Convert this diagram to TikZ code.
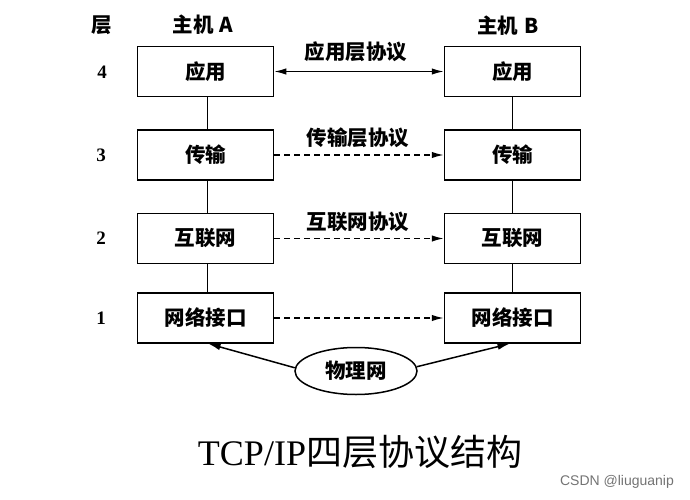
\documentclass[tikz,border=0pt]{standalone}
\usepackage{fontspec}
\setmainfont{Liberation Serif}
\newfontfamily\cjk{Noto Sans CJK SC}
\newfontfamily\wm{Liberation Sans}
\usetikzlibrary{arrows.meta,shapes.geometric}
\begin{document}
\begin{tikzpicture}[x=1pt,y=-1pt,
  layerbox/.style={draw,line width=1.5pt,minimum width=136pt,minimum height=50pt,inner sep=0pt,font=\cjk\bfseries\fontsize{20.5}{22}\selectfont},
  lbl/.style={font=\cjk\bfseries\fontsize{20.5}{22}\selectfont,inner sep=0pt},
  num/.style={font=\bfseries\fontsize{19}{21}\selectfont,inner sep=0pt},
  link/.style={line width=1.5pt},
  tip/.style={-{Latex[length=12pt,width=6.5pt]}},
  dashedarrow/.style={line width=1.5pt,dash pattern=on 6pt off 4pt,-{Latex[length=12pt,width=6.5pt]}}]
\useasboundingbox (0,0) rectangle (690,500);
% headers
\node[lbl] (hl) at (102,25) {层};
\node[lbl] (ha) at (203,25) {主机\hspace{0.3em}A};
\node[lbl] (hb) at (508,26) {主机\hspace{0.3em}B};
% layer numbers
\node[num] (n4) at (102,72) {4};
\node[num] (n3) at (101,155) {3};
\node[num] (n2) at (101,238) {2};
\node[num] (n1) at (101,318) {1};
% host A
\node[layerbox] (a4) at (205.5,71.5) {应用};
\node[layerbox] (a3) at (205.5,155) {传输};
\node[layerbox] (a2) at (205.5,238.5) {互联网};
\node[layerbox] (a1) at (205.5,318) {网络接口};
% host B
\node[layerbox] (b4) at (512.5,71.5) {应用};
\node[layerbox] (b3) at (512.5,155) {传输};
\node[layerbox] (b2) at (512.5,238.5) {互联网};
\node[layerbox] (b1) at (512.5,318) {网络接口};
% vertical links
\draw[link] ([xshift=2pt]a4.south) -- ([xshift=2pt]a3.north);
\draw[link] ([xshift=2pt]a3.south) -- ([xshift=2pt]a2.north);
\draw[link] ([xshift=2pt]a2.south) -- ([xshift=2pt]a1.north);
\draw[link] (b4.south) -- (b3.north);
\draw[link] (b3.south) -- (b2.north);
\draw[link] (b2.south) -- (b1.north);
% protocol arrows
\draw[link,{Latex[length=12pt,width=6.5pt]}-{Latex[length=12pt,width=6.5pt]}] (a4.east) -- (b4.west);
\draw[dashedarrow] (a3.east) -- (b3.west);
\draw[dashedarrow] (a2.east) -- (b2.west);
\draw[dashedarrow] (a1.east) -- (b1.west);
\node[lbl] (p4) at (356,52) {应用层协议};
\node[lbl] (p3) at (358,138) {传输层协议};
\node[lbl] (p2) at (358,222) {互联网协议};
% physical network
\node[draw,ellipse,line width=1.5pt,minimum width=122pt,minimum height=47pt,inner sep=0pt,font=\cjk\bfseries\fontsize{20.5}{22}\selectfont] (ph) at (356,371) {物理网};
\draw[link,tip] (ph.177) -- ([xshift=3pt]a1.south);
\draw[link,tip] (ph.4) -- ([xshift=-3pt]b1.south);
% title
\node[inner sep=0pt,font=\fontsize{36}{40}\selectfont] (title) at (360,452) {TCP/IP{\cjk 四层协议结构}};
\node[inner sep=0pt,font=\wm\fontsize{14}{16}\selectfont,text=black!55] (wm) at (617,482) {CSDN @liuguanip};
\end{tikzpicture}
\end{document}
